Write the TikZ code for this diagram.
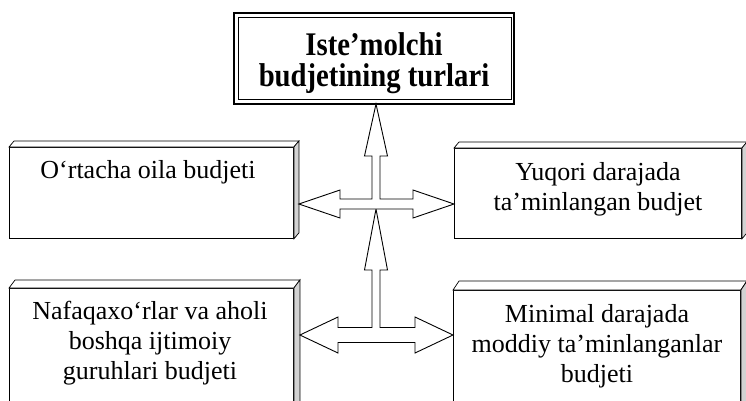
\documentclass[tikz,border=0pt]{standalone}
\usepackage{fontspec}
\setmainfont{Liberation Serif}
\newfontfamily\titlefont[FakeStretch=0.87]{Liberation Serif}
\usetikzlibrary{calc}
\newcommand\depthfaces[3]{%
  \draw[topface] (#1.north west) -- ++(#2,#3) -- ($(#1.north east)+(#2,#3)$) -- (#1.north east) -- cycle;
  \draw[sideface] (#1.north east) -- ++(#2,#3) -- ($(#1.south east)+(#2,#3)$) -- (#1.south east) -- cycle;}
\begin{document}
\begin{tikzpicture}[x=1pt,y=-1pt,
  frontbox/.style={draw, line width=0.9pt, fill=white, inner sep=0pt, anchor=north west},
  topface/.style={draw, line width=0.7pt, fill=white},
  sideface/.style={draw, line width=0.7pt, fill=gray!35},
  boxtext/.style={font=\fontsize{26}{30}\selectfont, align=center, inner sep=0pt, anchor=north},
  titletext/.style={font=\titlefont\bfseries\fontsize{33}{31}\selectfont, align=center, inner sep=0pt, anchor=north},
  fat/.style={draw, line width=0.9pt, fill=white, line join=miter}]
\clip (0,0) rectangle (746,400);
\fill[white] (0,0) rectangle (746,400);

% title
\node[draw, line width=1.6pt, outer sep=0pt, minimum width=280pt, minimum height=91pt, inner sep=0pt] (title) at (374,58.5) {};
\draw[line width=0.9pt] ($(title.north west)+(4.5,4.5)$) rectangle ($(title.south east)+(-3,-4.5)$);
\node[titletext] (titlelbl) at (374,32) {Iste’molchi\\budjetining turlari};

% boxes
\node[frontbox, minimum width=284pt, minimum height=91pt] (tl) at (9,147) {};
\depthfaces{tl}{5}{-6}
\node[frontbox, minimum width=287pt, minimum height=90pt] (tr) at (454,148) {};
\depthfaces{tr}{5}{-6}
\node[frontbox, minimum width=284pt, minimum height=142pt] (bl) at (9,288) {};
\depthfaces{bl}{6}{-8}
\node[frontbox, minimum width=287pt, minimum height=140pt] (br) at (453,290) {};
\depthfaces{br}{6}{-9}

\node[boxtext] (tltext) at (148,160) {O‘rtacha oila budjeti};
\node[boxtext] (trtext) at (598,162) {Yuqori darajada\\ta’minlangan budjet};
\node[boxtext] (bltext) at (150,301) {Nafaqaxo‘rlar va aholi\\boshqa ijtimoiy\\guruhlari budjeti};
\node[boxtext] (brtext) at (597,304) {Minimal darajada\\moddiy ta’minlanganlar\\budjeti};

% arrow junctions
\coordinate (u) at (376,204);
\coordinate (uL) at ($(u -| tl.east)+(5,0)$);
\coordinate (uR) at (u -| tr.west);
\coordinate (uT) at (u |- title.south);
\coordinate (d) at (376,335);
\coordinate (dL) at ($(d -| bl.east)+(6,0)$);
\coordinate (dR) at (d -| br.west);
\coordinate (dT) at ($(u)+(0,5)$);

% lower T-arrow
\draw[fat] (dL) -- ($(d)+(-38,-18)$) -- ($(d)+(-38,-7.5)$) -- ($(d)+(-4,-7.5)$)
  -- ($(dT)+(-4,61)$) -- ($(dT)+(-11.5,61)$) -- (dT) -- ($(dT)+(11.5,61)$) -- ($(dT)+(4,61)$)
  -- ($(d)+(4,-7.5)$) -- ($(d)+(39,-7.5)$) -- ($(d)+(39,-18)$) -- (dR)
  -- ($(d)+(39,18)$) -- ($(d)+(39,7.5)$) -- ($(d)+(-38,7.5)$) -- ($(d)+(-38,18)$) -- cycle;

% upper T-arrow
\draw[fat] (uL) -- ($(u)+(-36,-14)$) -- ($(u)+(-36,-5)$) -- ($(u)+(-4,-5)$)
  -- ($(uT)+(-4,52)$) -- ($(uT)+(-11.5,52)$) -- (uT) -- ($(uT)+(11.5,52)$) -- ($(uT)+(4,52)$)
  -- ($(u)+(4,-5)$) -- ($(u)+(37,-5)$) -- ($(u)+(37,-14)$) -- (uR)
  -- ($(u)+(37,14)$) -- ($(u)+(37,5)$) -- ($(u)+(-36,5)$) -- ($(u)+(-36,14)$) -- cycle;
\end{tikzpicture}
\end{document}
